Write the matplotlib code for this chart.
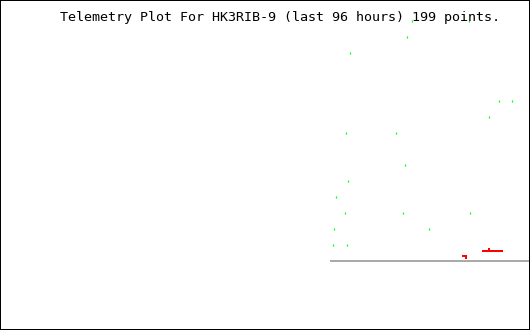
import matplotlib
matplotlib.use("Agg")
import matplotlib.pyplot as plt
import matplotlib.patches as mpatches

# Telemetry samples (hours before now, value)
green_hours = [-56.6, -29.3, -59.0, -86.4, -14.9, -8.6, -19.7, -88.3, -64.3,
               -60.0, -87.4, -93.1, -88.8, -61.0, -28.8, -94.1, -48.5, -94.6, -87.8]
green_vals = [15, 15, 14, 13, 10, 10, 9, 8, 8,
              6, 5, 4, 3, 3, 3, 2, 2, 1, 1]

red_hours = [-22.6, -22.1, -21.6, -21.1, -20.6, -20.2, -19.7, -19.2, -18.7, -18.2,
             -17.8, -17.3, -16.8, -16.3, -15.8, -15.4, -14.9, -14.4, -13.9, -13.4,
             -32.2, -31.7, -31.2, -30.7, -30.7, -19.7]
red_vals = [0.62] * 20 + [0.31, 0.31, 0.31, 0.31, 0.20, 0.75]

title = "Telemetry Plot For HK3RIB-9 (last 96 hours) 199 points."

fig = plt.figure(figsize=(5.3, 3.3), dpi=100)
fig.patch.set_facecolor("white")

# border round the whole picture (half of the 2px line is clipped off)
fig.patches.append(mpatches.Rectangle((0, 0), 1, 1,
                                      transform=fig.transFigure, fill=False,
                                      edgecolor="black", linewidth=1.44,
                                      antialiased=False, zorder=10))

ax = fig.add_axes([330 / 530, 0, 200 / 530, 1])
ax.set_xlim(-96, 0)
ax.set_ylim(-69 / 16, 261 / 16)
ax.axis("off")

ax.axhline(0, color="#aaaaaa", linewidth=1.44, antialiased=False, zorder=1)
ax.plot(red_hours, red_vals, linestyle="none", marker="s", markersize=1.5,
        markeredgewidth=0, color="#ff0000", antialiased=False, zorder=2)
ax.plot(green_hours, green_vals, linestyle="none", marker="|", markersize=1.6,
        markeredgewidth=0.9, color="#00ff00", antialiased=False, zorder=3)

fig.text(60 / 530, 1 - 18 / 330, title, ha="left", va="center",
         fontsize=9.6, family="DejaVu Sans Mono", color="black", zorder=1)

fig.savefig("out.png", dpi=100)
